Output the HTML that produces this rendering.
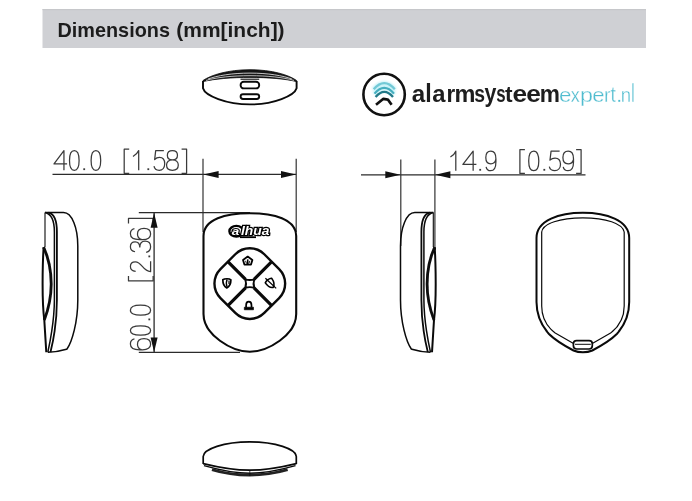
<!DOCTYPE html>
<html><head><meta charset="utf-8"><style>
html,body{margin:0;padding:0;background:#fff;width:692px;height:501px;overflow:hidden;position:relative}
</style></head><body>

<svg width="692" height="501" viewBox="0 0 692 501" style="position:absolute;left:0;top:0;will-change:transform">
<defs>
 <filter id="blur1" x="-20%" y="-20%" width="140%" height="140%"><feGaussianBlur stdDeviation="0.45"/></filter>
 <filter id="glow" x="-30%" y="-30%" width="160%" height="160%"><feGaussianBlur stdDeviation="0.8"/></filter>
</defs>
<rect x="42.5" y="9" width="603.5" height="39" fill="#cfd0d4"/>
<rect x="42.5" y="9" width="603.5" height="1.2" fill="#c6c7ca"/>
<text transform="translate(57.47,36.90) scale(0.9928,1.0393)" font-family="Liberation Sans" font-weight="bold" font-size="20.0" fill="#1c1c1c" >Dimensions</text>
<text transform="translate(176.26,36.90) scale(1.0491,1.0393)" font-family="Liberation Sans" font-weight="bold" font-size="20.0" fill="#1c1c1c" >(mm[inch])</text>

<!-- ===== top view ===== -->
<g fill="none" stroke="#0a0a0a" stroke-linejoin="round">
 <path d="M203,80.5 C211,75 228,69.7 250,69.7 C272,69.7 289,75 296.6,80.5 L296.6,81.6 C286,78.9 268,77.4 250,77.4 C232,77.4 214,78.9 203,81.6 Z" fill="#151515" stroke-width="0.8"/>
 <path d="M208,79.1 C217,75.6 232,73.1 250,73.1 C268,73.1 283,75.6 292,79.1" stroke="#fff" stroke-width="0.75"/>
 <path d="M206,80.4 C217,77.4 232,75.7 250,75.7 C268,75.7 283,77.4 294,80.4" stroke="#fff" stroke-width="0.7"/>
 <path d="M203,81 L203,88.2 C205,95.5 226,104.4 250,104.4 C274,104.4 294.5,95.5 296.6,88.2 L296.6,81" stroke-width="1.9"/>
 <path d="M240.5,79.2 L259.2,79.2" stroke-width="1.1"/>
 <rect x="240.6" y="81.8" width="18.6" height="6.6" rx="3.2" stroke-width="1.9"/>
 <rect x="240.6" y="94.2" width="18.6" height="4.8" rx="2.4" stroke-width="1.9"/>
</g>

<!-- ===== logo ===== -->
<g>
 <circle cx="384.1" cy="94.5" r="20.7" fill="none" stroke="#111" stroke-width="2.6"/>
 <g fill="none" stroke-linecap="butt" filter="url(#glow)">
  <path d="M373.2,89.6 Q384.3,76.8 395.2,89.6" stroke="#c8f2f8" stroke-width="4.5"/>
  <path d="M374.2,94 Q384.3,82 394.3,94" stroke="#c8f2f8" stroke-width="4.5"/>
 </g>
 <g fill="none" stroke-linecap="butt" filter="url(#blur1)">
  <path d="M373.7,89.2 Q384.3,77 394.8,89.2" stroke="#72c9d6" stroke-width="2.2"/>
  <path d="M374.5,93.6 Q384.3,82.2 394,93.6" stroke="#45aebf" stroke-width="2.2"/>
  <path d="M375.6,97 Q384.3,86.8 393,97" stroke="#227a89" stroke-width="2.3"/>
 </g>
 <path d="M376,104.8 L383.4,98.8 L386.4,99.3 L388.2,99.9 L391.6,104.8" fill="none" stroke="#111" stroke-width="2.7" stroke-linejoin="round"/>
<text transform="translate(411.69,101.70) scale(0.968,0.981)" font-family="Liberation Sans" font-weight="bold" font-size="25.0" fill="#1e1e1e" >a</text>
<text transform="translate(425.37,101.70) scale(0.933,1.065)" font-family="Liberation Sans" font-weight="bold" font-size="25.0" fill="#1e1e1e" >l</text>
<text transform="translate(432.20,101.70) scale(0.953,0.981)" font-family="Liberation Sans" font-weight="bold" font-size="25.0" fill="#1e1e1e" >a</text>
<text transform="translate(446.42,101.70) scale(0.896,0.980)" font-family="Liberation Sans" font-weight="bold" font-size="25.0" fill="#1e1e1e" >r</text>
<text transform="translate(454.45,101.70) scale(0.941,0.980)" font-family="Liberation Sans" font-weight="bold" font-size="25.0" fill="#1e1e1e" >m</text>
<text transform="translate(474.32,101.70) scale(0.775,0.980)" font-family="Liberation Sans" font-weight="bold" font-size="25.0" fill="#1e1e1e" >s</text>
<text transform="translate(484.43,101.70) scale(0.855,0.999)" font-family="Liberation Sans" font-weight="bold" font-size="25.0" fill="#1e1e1e" >y</text>
<text transform="translate(496.21,101.70) scale(0.675,0.980)" font-family="Liberation Sans" font-weight="bold" font-size="25.0" fill="#1e1e1e" >s</text>
<text transform="translate(505.12,101.70) scale(0.907,0.901)" font-family="Liberation Sans" font-weight="bold" font-size="25.0" fill="#1e1e1e" >t</text>
<text transform="translate(512.47,101.70) scale(1.052,0.981)" font-family="Liberation Sans" font-weight="bold" font-size="25.0" fill="#1e1e1e" >e</text>
<text transform="translate(526.37,101.70) scale(1.052,0.981)" font-family="Liberation Sans" font-weight="bold" font-size="25.0" fill="#1e1e1e" >e</text>
<text transform="translate(539.80,101.70) scale(0.909,0.980)" font-family="Liberation Sans" font-weight="bold" font-size="25.0" fill="#1e1e1e" >m</text>
<text transform="translate(558.95,101.80) scale(1.017,0.879)" font-family="Liberation Sans" font-weight="normal" font-size="22" fill="#4fbccf" stroke="#fff" stroke-width="0.35">e</text>
<text transform="translate(570.80,101.80) scale(0.818,0.878)" font-family="Liberation Sans" font-weight="normal" font-size="22" fill="#4fbccf" stroke="#fff" stroke-width="0.35">x</text>
<text transform="translate(579.90,101.80) scale(1.061,0.879)" font-family="Liberation Sans" font-weight="normal" font-size="22" fill="#4fbccf" stroke="#fff" stroke-width="0.35">p</text>
<text transform="translate(592.16,101.80) scale(1.007,0.879)" font-family="Liberation Sans" font-weight="normal" font-size="22" fill="#4fbccf" stroke="#fff" stroke-width="0.35">e</text>
<text transform="translate(604.10,101.80) scale(0.891,0.879)" font-family="Liberation Sans" font-weight="normal" font-size="22" fill="#4fbccf" stroke="#fff" stroke-width="0.35">r</text>
<text transform="translate(610.61,101.80) scale(0.872,0.991)" font-family="Liberation Sans" font-weight="normal" font-size="22" fill="#4fbccf" stroke="#fff" stroke-width="0.35">t</text>
<text transform="translate(620.77,101.80) scale(0.845,0.879)" font-family="Liberation Sans" font-weight="normal" font-size="22" fill="#4fbccf" stroke="#fff" stroke-width="0.35">n</text>
<text transform="translate(630.95,101.80) scale(0.776,1.192)" font-family="Liberation Sans" font-weight="normal" font-size="22" fill="#4fbccf" stroke="#fff" stroke-width="0.35">l</text>
<rect x="618.3" y="99.9" width="1.9" height="1.9" fill="#4fbccf"/>
</g>

<!-- ===== 40.0 dimension ===== -->
<g fill="none">
 <path d="M52.5,174.4 L296.2,174.4" stroke="#2b2b2b" stroke-width="1.3"/>
 <path d="M203,158.8 L203,232" stroke="#333" stroke-width="1.2"/>
 <path d="M296.2,158.8 L296.2,232" stroke="#333" stroke-width="1.2"/>
</g>
<path d="M203.5,174.4 L218.6,170.9 L218.6,177.9 Z" fill="#111"/>
<path d="M296,174.4 L281,170.9 L281,177.9 Z" fill="#111"/>
<path d="M8.2,20 L8.2,0 L0,13.6 L10.8,13.6" transform="translate(54,150.6) scale(1.2129629629629628,0.985)" fill="none" stroke="#3a3a3a" stroke-width="1.25" vector-effect="non-scaling-stroke" stroke-linejoin="round" stroke-linecap="butt"/>
<path d="M5,0 C1.6,0 0.2,4.2 0.2,10 C0.2,15.8 1.6,20 5,20 C8.4,20 9.8,15.8 9.8,10 C9.8,4.2 8.4,0 5,0 Z" transform="translate(69.3,150.6) scale(1.0,0.985)" fill="none" stroke="#3a3a3a" stroke-width="1.25" vector-effect="non-scaling-stroke" stroke-linejoin="round" stroke-linecap="butt"/>
<rect x="83.30" y="168.30" width="1.8" height="1.8" fill="#3a3a3a"/>
<path d="M5,0 C1.6,0 0.2,4.2 0.2,10 C0.2,15.8 1.6,20 5,20 C8.4,20 9.8,15.8 9.8,10 C9.8,4.2 8.4,0 5,0 Z" transform="translate(90.9,150.6) scale(1.0,0.985)" fill="none" stroke="#3a3a3a" stroke-width="1.25" vector-effect="non-scaling-stroke" stroke-linejoin="round" stroke-linecap="butt"/>
<path d="M5,-1.2 L0,-1.2 L0,23.2 L5,23.2" transform="translate(124.2,150.4) scale(1,0.985)" fill="none" stroke="#3a3a3a" stroke-width="1.25" vector-effect="non-scaling-stroke" stroke-linejoin="round" stroke-linecap="butt"/>
<path d="M0,6 C2.5,4.5 4.5,2.5 5.5,0 L5.5,20" transform="translate(133.0,150.6) scale(1.0363636363636364,0.985)" fill="none" stroke="#3a3a3a" stroke-width="1.25" vector-effect="non-scaling-stroke" stroke-linejoin="round" stroke-linecap="butt"/>
<rect x="147.40" y="168.30" width="1.8" height="1.8" fill="#3a3a3a"/>
<path d="M9.6,0 L1.8,0 L0.8,9.2 C2,7.8 3.6,7 5.4,7 C8.4,7 10.4,9.4 10.4,13.4 C10.4,17.4 8.2,20 5.2,20 C2.6,20 0.6,18.4 0.2,15.8" transform="translate(153.8,150.6) scale(1.0480769230769231,0.985)" fill="none" stroke="#3a3a3a" stroke-width="1.25" vector-effect="non-scaling-stroke" stroke-linejoin="round" stroke-linecap="butt"/>
<path d="M5.2,9.4 C2.6,9.4 0.9,7.6 0.9,4.7 C0.9,1.9 2.6,0 5.2,0 C7.8,0 9.5,1.9 9.5,4.7 C9.5,7.6 7.8,9.4 5.2,9.4 C2.2,9.4 0.2,11.6 0.2,14.7 C0.2,17.9 2.2,20 5.2,20 C8.2,20 10.2,17.9 10.2,14.7 C10.2,11.6 8.2,9.4 5.2,9.4 Z" transform="translate(166.3,150.6) scale(1.1764705882352942,0.985)" fill="none" stroke="#3a3a3a" stroke-width="1.25" vector-effect="non-scaling-stroke" stroke-linejoin="round" stroke-linecap="butt"/>
<path d="M-5,-1.2 L0,-1.2 L0,23.2 L-5,23.2" transform="translate(186.6,150.4) scale(1,0.985)" fill="none" stroke="#3a3a3a" stroke-width="1.25" vector-effect="non-scaling-stroke" stroke-linejoin="round" stroke-linecap="butt"/>
<path d="M0,6 C2.5,4.5 4.5,2.5 5.5,0 L5.5,20" transform="translate(450.4,151.2) scale(0.981818181818182,0.975)" fill="none" stroke="#3a3a3a" stroke-width="1.25" vector-effect="non-scaling-stroke" stroke-linejoin="round" stroke-linecap="butt"/>
<path d="M8.2,20 L8.2,0 L0,13.6 L10.8,13.6" transform="translate(462.9,151.2) scale(1.25,0.975)" fill="none" stroke="#3a3a3a" stroke-width="1.25" vector-effect="non-scaling-stroke" stroke-linejoin="round" stroke-linecap="butt"/>
<rect x="479.30" y="168.90" width="1.8" height="1.8" fill="#3a3a3a"/>
<path d="M10,9 C9.4,11.6 7.6,13 5.2,13 C2.2,13 0.2,10.6 0.2,6.5 C0.2,2.5 2.2,0 5.2,0 C8.4,0 10.2,2.8 10.2,8 L10.2,11 C10.2,17 8.2,20 5,20 C2.6,20 1,18.6 0.5,16" transform="translate(485.6,151.2) scale(1.0098039215686276,0.975)" fill="none" stroke="#3a3a3a" stroke-width="1.25" vector-effect="non-scaling-stroke" stroke-linejoin="round" stroke-linecap="butt"/>
<path d="M5,-1.2 L0,-1.2 L0,23.2 L5,23.2" transform="translate(519.9,150.79999999999998) scale(1,0.975)" fill="none" stroke="#3a3a3a" stroke-width="1.25" vector-effect="non-scaling-stroke" stroke-linejoin="round" stroke-linecap="butt"/>
<path d="M5,0 C1.6,0 0.2,4.2 0.2,10 C0.2,15.8 1.6,20 5,20 C8.4,20 9.8,15.8 9.8,10 C9.8,4.2 8.4,0 5,0 Z" transform="translate(528.5,151.2) scale(1.05,0.975)" fill="none" stroke="#3a3a3a" stroke-width="1.25" vector-effect="non-scaling-stroke" stroke-linejoin="round" stroke-linecap="butt"/>
<rect x="543.40" y="168.90" width="1.8" height="1.8" fill="#3a3a3a"/>
<path d="M9.6,0 L1.8,0 L0.8,9.2 C2,7.8 3.6,7 5.4,7 C8.4,7 10.4,9.4 10.4,13.4 C10.4,17.4 8.2,20 5.2,20 C2.6,20 0.6,18.4 0.2,15.8" transform="translate(549.1,151.2) scale(1.0961538461538463,0.975)" fill="none" stroke="#3a3a3a" stroke-width="1.25" vector-effect="non-scaling-stroke" stroke-linejoin="round" stroke-linecap="butt"/>
<path d="M10,9 C9.4,11.6 7.6,13 5.2,13 C2.2,13 0.2,10.6 0.2,6.5 C0.2,2.5 2.2,0 5.2,0 C8.4,0 10.2,2.8 10.2,8 L10.2,11 C10.2,17 8.2,20 5,20 C2.6,20 1,18.6 0.5,16" transform="translate(562.7,151.2) scale(1.058823529411765,0.975)" fill="none" stroke="#3a3a3a" stroke-width="1.25" vector-effect="non-scaling-stroke" stroke-linejoin="round" stroke-linecap="butt"/>
<path d="M-5,-1.2 L0,-1.2 L0,23.2 L-5,23.2" transform="translate(581.1,150.79999999999998) scale(1,0.975)" fill="none" stroke="#3a3a3a" stroke-width="1.25" vector-effect="non-scaling-stroke" stroke-linejoin="round" stroke-linecap="butt"/>
<path d="M0.2,11 C0.8,8.4 2.6,7 5,7 C8,7 10,9.4 10,13.5 C10,17.5 8,20 5,20 C1.8,20 0,17.2 0,12 L0,9 C0,3 2,0 5.2,0 C7.6,0 9.2,1.4 9.7,4" transform="translate(130.4,349.8) rotate(-90) scale(1.1199999999999999,1.01)" fill="none" stroke="#3a3a3a" stroke-width="1.25" vector-effect="non-scaling-stroke" stroke-linejoin="round" stroke-linecap="butt"/>
<path d="M5,0 C1.6,0 0.2,4.2 0.2,10 C0.2,15.8 1.6,20 5,20 C8.4,20 9.8,15.8 9.8,10 C9.8,4.2 8.4,0 5,0 Z" transform="translate(130.4,335.4) rotate(-90) scale(0.96,1.01)" fill="none" stroke="#3a3a3a" stroke-width="1.25" vector-effect="non-scaling-stroke" stroke-linejoin="round" stroke-linecap="butt"/>
<rect x="148.40" y="318.50" width="1.8" height="1.8" fill="#3a3a3a"/>
<path d="M5,0 C1.6,0 0.2,4.2 0.2,10 C0.2,15.8 1.6,20 5,20 C8.4,20 9.8,15.8 9.8,10 C9.8,4.2 8.4,0 5,0 Z" transform="translate(130.4,315.4) rotate(-90) scale(1.04,1.01)" fill="none" stroke="#3a3a3a" stroke-width="1.25" vector-effect="non-scaling-stroke" stroke-linejoin="round" stroke-linecap="butt"/>
<path d="M5,-1.2 L0,-1.2 L0,23.2 L5,23.2" transform="translate(129.7,280.9) rotate(-90) scale(1,1.01)" fill="none" stroke="#3a3a3a" stroke-width="1.25" vector-effect="non-scaling-stroke" stroke-linejoin="round" stroke-linecap="butt"/>
<path d="M0.6,5.2 C0.9,1.9 2.8,0 5.3,0 C8,0 9.9,2 9.9,4.9 C9.9,7.6 8.3,9.4 5.4,11.8 C2.4,14.3 0.5,16.8 0.3,20 L10.4,20" transform="translate(130.4,271.9) rotate(-90) scale(1.0192307692307692,1.01)" fill="none" stroke="#3a3a3a" stroke-width="1.25" vector-effect="non-scaling-stroke" stroke-linejoin="round" stroke-linecap="butt"/>
<rect x="148.40" y="255.50" width="1.8" height="1.8" fill="#3a3a3a"/>
<path d="M0.6,4.6 C1.1,1.6 2.9,0 5.2,0 C7.9,0 9.7,1.9 9.7,4.7 C9.7,7.5 7.8,9.3 4.4,9.3 M4.4,9.3 C8.2,9.3 10.3,11.4 10.3,14.5 C10.3,17.8 8.2,20 5.1,20 C2.3,20 0.5,18.3 0,15.6" transform="translate(130.4,252.4) rotate(-90) scale(1.087378640776699,1.01)" fill="none" stroke="#3a3a3a" stroke-width="1.25" vector-effect="non-scaling-stroke" stroke-linejoin="round" stroke-linecap="butt"/>
<path d="M0.2,11 C0.8,8.4 2.6,7 5,7 C8,7 10,9.4 10,13.5 C10,17.5 8,20 5,20 C1.8,20 0,17.2 0,12 L0,9 C0,3 2,0 5.2,0 C7.6,0 9.2,1.4 9.7,4" transform="translate(130.4,239.6) rotate(-90) scale(1.1199999999999999,1.01)" fill="none" stroke="#3a3a3a" stroke-width="1.25" vector-effect="non-scaling-stroke" stroke-linejoin="round" stroke-linecap="butt"/>
<path d="M-5,-1.2 L0,-1.2 L0,23.2 L-5,23.2" transform="translate(129.7,218.4) rotate(-90) scale(1,1.01)" fill="none" stroke="#3a3a3a" stroke-width="1.25" vector-effect="non-scaling-stroke" stroke-linejoin="round" stroke-linecap="butt"/>

<!-- ===== 14.9 dimension ===== -->
<g fill="none">
 <path d="M361,174.8 L585.5,174.8" stroke="#2b2b2b" stroke-width="1.3"/>
 <path d="M400.8,159.5 L400.8,246" stroke="#333" stroke-width="1.2"/>
 <path d="M434.9,159.5 L434.9,250" stroke="#333" stroke-width="1.2"/>
</g>
<path d="M400.5,174.8 L385.3,171.3 L385.3,178.3 Z" fill="#111"/>
<path d="M435.2,174.8 L450.4,171.3 L450.4,178.3 Z" fill="#111"/>

<!-- ===== 60.0 vertical dimension ===== -->
<g fill="none">
 <path d="M154.1,212.6 L154.1,352.4" stroke="#2b2b2b" stroke-width="1.3"/>
 <path d="M138.8,212.7 L250,212.7" stroke="#2b2b2b" stroke-width="1.2"/>
 <path d="M138.8,352.3 L240,352.3" stroke="#2b2b2b" stroke-width="1.2"/>
</g>
<path d="M154.1,212.8 L150.6,227.8 L157.6,227.8 Z" fill="#111"/>
<path d="M154.1,352.2 L150.6,337.6 L157.6,337.6 Z" fill="#111"/>

<!-- ===== front view ===== -->
<g fill="none" stroke="#0a0a0a" stroke-linejoin="round">
 <path d="M203.5,236 C203.5,219 226,213.2 249.8,213.2 C273.5,213.2 296.2,219 296.2,236 L296.2,314 C296.2,335 267.6,351.8 249.8,351.8 C232,351.8 203.5,335 203.5,314 Z" fill="#fff" stroke-width="2.1"/>
 <!-- key pad -->
 <g transform="translate(249.8,283.6) rotate(45)">
  <rect x="-31" y="-31" width="62" height="62" rx="20.5" stroke-width="2.4"/>
  <path d="M0,-31 L0,-6 M0,6 L0,31 M-31,0 L-6,0 M6,0 L31,0" stroke-width="3.2"/>
 </g>
 <path d="M245.3,279.3 Q249.8,280.8 254.3,279.3 Q252.8,283.6 254.3,287.9 Q249.8,286.4 245.3,287.9 Q246.8,283.6 245.3,279.3 Z" stroke-width="1.9" fill="#fff"/>
</g>
<!-- icons -->
<g fill="none" stroke="#000" stroke-linejoin="round">
 <path d="M247.7,256.6 L252.4,259.9 L251,264.6 L244.4,264.6 L243,259.9 Z" stroke-width="1.8"/>
 <path d="M247.7,259.4 L247.7,264.4" stroke-width="1.6"/>
 <path d="M245.5,260.8 L246.6,263.6 M249.9,260.8 L248.8,263.6" stroke-width="0.9"/>
 <path d="M222.8,279.8 C224.6,278.5 229.2,278.3 230.9,279.8 C230.9,283.6 229.3,286.8 226.8,288 C224.3,286.8 222.8,283.6 222.8,279.8 Z" stroke-width="1.7"/>
 <path d="M227.2,279.4 C226.2,281.5 226.2,285.3 227.2,287.5" stroke-width="1.3"/>
 <path d="M229,280.5 L229,284" stroke-width="1.2"/>
 <path d="M266.6,280 C268.4,278.7 272.9,278.5 274.5,280 C274.5,283.8 272.9,287.1 270.5,288.2 C268,287.1 266.6,283.8 266.6,280 Z" stroke-width="1.6" transform="rotate(-35 270.5 283.5)"/>
 <path d="M265.4,278.2 L276.2,288.4" stroke-width="1.3"/>
 <path d="M246.1,307.6 L246.1,305.2 C246.1,302.8 247.3,301.6 248.8,301.6 C250.3,301.6 251.5,302.8 251.5,305.2 L251.5,307.6" stroke-width="1.7"/>
 <rect x="244.3" y="307.2" width="9.2" height="2.6" fill="#000" stroke-width="0.6"/>
</g>
<!-- dahua logo -->
<g>
 <ellipse cx="236.4" cy="231.2" rx="7.0" ry="5.3" fill="#fff" stroke="#000" stroke-width="2.4"/>
 <path d="M240,237.2 L256,237.2" stroke="#000" stroke-width="1.8"/>
 <text x="231.8" y="234.8" font-family="Liberation Sans" font-weight="bold" font-style="italic" font-size="10.5" fill="#fff" stroke="#000" stroke-width="2.0" paint-order="stroke" textLength="7.5" lengthAdjust="spacingAndGlyphs">a</text>
 <text x="241" y="235.4" font-family="Liberation Sans" font-weight="bold" font-style="italic" font-size="12" fill="#fff" stroke="#000" stroke-width="2.3" paint-order="stroke" textLength="28.5" lengthAdjust="spacingAndGlyphs">lhua</text>
</g>

<!-- ===== left side view ===== -->
<g fill="none" stroke="#0a0a0a" stroke-linejoin="round">
 <path d="M45,212.6 L63.5,212.6 C72,212.6 77.8,228 77.8,246 L77.8,300 C77.8,322 72,342 67,349 C62,350.5 58,351.8 48,352.3" stroke-width="1.5"/>
 <path d="M45,212.6 L45,247" stroke-width="1.1"/>
 <path d="M45,212.6 C50.5,213.8 54.4,220 54.4,232 L54.4,300 C54.3,320 50.5,340 47.8,352.3" stroke-width="1.5"/>
 <path d="M48.6,212.6 C54,213.8 56.9,220 56.9,232 L56.9,300 C56.9,322 53,342 50.5,352" stroke-width="1.8"/>
 <path d="M43.6,247.2 C42.8,260 42.6,275 42.6,284 C42.6,296 43,310 44.3,320 L46.3,352.3" stroke-width="2.0"/>
 <path d="M43.6,247.2 C48.5,258 51.2,272 51.2,284 C51.2,296 48.5,309 44.3,320" stroke-width="2.8" filter="url(#blur1)"/>

</g>

<!-- ===== right side view (mirror) ===== -->
<g transform="translate(478.3,0) scale(-1,1)">
<g fill="none" stroke="#0a0a0a" stroke-linejoin="round">
 <path d="M45,212.6 L63.5,212.6 C72,212.6 77.8,228 77.8,246 L77.8,300 C77.8,322 72,342 67,349 C62,350.5 58,351.8 48,352.3" stroke-width="1.5"/>
 <path d="M45,212.6 L45,247" stroke-width="1.1"/>
 <path d="M45,212.6 C50.5,213.8 54.4,220 54.4,232 L54.4,300 C54.3,320 50.5,340 47.8,352.3" stroke-width="1.5"/>
 <path d="M48.6,212.6 C54,213.8 56.9,220 56.9,232 L56.9,300 C56.9,322 53,342 50.5,352" stroke-width="1.8"/>
 <path d="M43.6,247.2 C42.8,260 42.6,275 42.6,284 C42.6,296 43,310 44.3,320 L46.3,352.3" stroke-width="2.0"/>
 <path d="M43.6,247.2 C48.5,258 51.2,272 51.2,284 C51.2,296 48.5,309 44.3,320" stroke-width="2.8" filter="url(#blur1)"/>

</g>
</g>

<!-- ===== back view ===== -->
<g fill="none" stroke="#0a0a0a" stroke-linejoin="round">
 <path d="M536.5,238 C536.5,220 560,212.8 582.9,212.8 C605.7,212.8 629.2,220 629.2,238 L629.2,302 C629.2,315 624.8,325 616.8,334 C610.8,340 600.8,346 592.3,350.5 C588.8,352 585.8,352.3 582.9,352.3 C580,352.3 577,352 573.5,350.5 C565,346 555,340 549,334 C541,325 536.5,315 536.5,302 Z" stroke-width="2.0"/>
 <path d="M573.5,343.6 L555.2,333 C546,326 541.7,318 541.7,306 L541.7,232 C543,223.5 560,217.8 582.9,217.8 C605.8,217.8 622.8,223.5 624.2,232 L624.2,306 C624.2,318 619.8,326 610.6,333 L592.3,343.6" stroke-width="1.2"/>
 <rect x="573.4" y="340.6" width="18.9" height="8.4" rx="3.2" stroke-width="1.7" fill="#fff"/>
 <path d="M575,344.3 L590.8,344.3" stroke-width="1"/>
</g>

<!-- ===== bottom view ===== -->
<g fill="none" stroke="#0a0a0a" stroke-linejoin="round">
 <path d="M203.2,464 L203.2,456.5 C203.5,449 224,441.8 249.8,441.8 C275.5,441.8 296,449 296.3,456.5 L296.3,464" stroke-width="1.7"/>
 <path d="M203.2,463.6 C215,466.5 232,470.2 249.8,470.2 C267.5,470.2 284.5,466.5 296.3,463.6" stroke-width="1.7"/>
 <path d="M204,465.6 C216,469 232,473.2 249.8,473.2 C267.5,473.2 283.5,469 295.5,465.6" stroke-width="1.4"/>
 <path d="M212,469.6 C223,473 236,475 249.8,475 C263.5,475 276,473 287.6,469.6" stroke-width="3.0" stroke="#222" filter="url(#blur1)"/>
 <path d="M249.8,470 L249.8,476" stroke-width="0.8"/>
</g>
</svg>

</body></html>
